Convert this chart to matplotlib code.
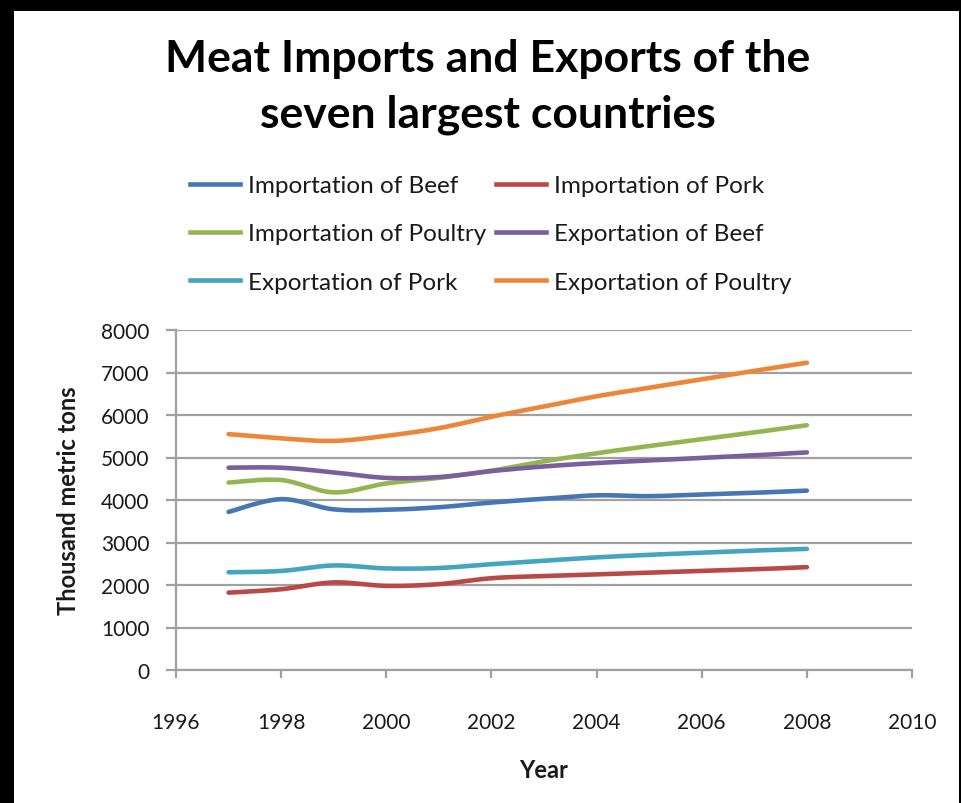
import numpy as np
import matplotlib
matplotlib.use("Agg")
import matplotlib.pyplot as plt
from matplotlib.patches import Rectangle
from matplotlib.lines import Line2D

plt.rcParams['font.family'] = ['Lato', 'DejaVu Sans']

years = [1997, 1998, 1999, 2000, 2001, 2002, 2003, 2004, 2005, 2006, 2007, 2008]
import_beef = [3720, 4020, 3780, 3770, 3830, 3940, 4030, 4110, 4090, 4130, 4170, 4220]
import_pork = [1820, 1900, 2060, 1980, 2020, 2160, 2210, 2250, 2290, 2330, 2370, 2420]
import_poultry = [4410, 4470, 4180, 4390, 4520, 4690, 4910, 5100, 5270, 5430, 5590, 5760]
export_beef = [4760, 4760, 4650, 4520, 4540, 4680, 4790, 4870, 4930, 4990, 5050, 5120]
export_pork = [2300, 2330, 2460, 2390, 2400, 2490, 2570, 2650, 2710, 2760, 2810, 2850]
export_poultry = [5550, 5450, 5390, 5510, 5690, 5960, 6200, 6440, 6640, 6840, 7040, 7230]

series_names = ["Importation of Beef", "Importation of Pork", "Importation of Poultry",
                "Exportation of Beef", "Exportation of Pork", "Exportation of Poultry"]
series_values = [import_beef, import_pork, import_poultry,
                 export_beef, export_pork, export_poultry]
colors = ["#4676B4", "#BA4845", "#93B651", "#7A5E9E", "#43A5BF", "#EE8638"]

x_ticks = [1996, 1998, 2000, 2002, 2004, 2006, 2008, 2010]
y_ticks = [0, 1000, 2000, 3000, 4000, 5000, 6000, 7000, 8000]


def smooth(xs, ys, n=30):
    """Smoothed curve through the points (cubic Bezier, Catmull-Rom tangents)."""
    pts = np.column_stack([xs, ys]).astype(float)
    ext = np.vstack([pts[0], pts, pts[-1]])
    out = []
    t = np.linspace(0, 1, n)[:, None]
    for i in range(len(pts) - 1):
        p0, p1, p2, p3 = ext[i], ext[i + 1], ext[i + 2], ext[i + 3]
        b1 = p1 + (p2 - p0) / 6.0
        b2 = p2 - (p3 - p1) / 6.0
        seg = ((1 - t) ** 3) * p1 + 3 * ((1 - t) ** 2) * t * b1 \
            + 3 * (1 - t) * t ** 2 * b2 + t ** 3 * p2
        out.append(seg if i == 0 else seg[1:])
    out = np.vstack(out)
    return out[:, 0], out[:, 1]


W, H = 961, 804
fig = plt.figure(figsize=(W / 100, H / 100), dpi=100)
fig.patch.set_facecolor("black")
fig.patches.append(Rectangle((14 / W, 0), (959 - 14) / W, (H - 12) / H,
                             transform=fig.transFigure, facecolor="white",
                             edgecolor="none", zorder=-10))

ax = fig.add_axes([176 / W, (H - 671) / H, 736 / W, 340 / H])
ax.set_facecolor("white")

grid_c = "#A0A0A0"
for name, vals, c in zip(series_names, series_values, colors):
    sx, sy = smooth(years, vals)
    ax.plot(sx, sy, color=c, lw=3.3, solid_capstyle="round",
            solid_joinstyle="round", zorder=3)

ax.set_xlim(1996, 2010)
ax.set_ylim(0, 8000)
ax.set_xticks(x_ticks)
ax.set_yticks(y_ticks)
ax.set_xticklabels([str(v) for v in x_ticks])
ax.set_yticklabels([str(v) for v in y_ticks])

ax.yaxis.grid(True, color=grid_c, lw=1.6)
ax.set_axisbelow(True)
for s in ["top", "right"]:
    ax.spines[s].set_visible(False)
for s in ["left", "bottom"]:
    ax.spines[s].set_color(grid_c)
    ax.spines[s].set_linewidth(1.6)

ax.tick_params(axis="y", direction="out", length=7, width=1.6, color=grid_c,
               labelsize=15, pad=12, labelcolor="#1a1a1a")
ax.tick_params(axis="x", direction="out", length=6, width=1.6, color=grid_c,
               labelsize=15, pad=24, labelcolor="#1a1a1a")

ax.set_xlabel("Year", fontsize=17, fontweight="bold", labelpad=19, color="#1a1a1a")
ax.set_ylabel("Thousand metric tons", fontsize=17, fontweight="bold",
              labelpad=15, color="#1a1a1a")

fig.text(488 / W, 1 - 59 / H, "Meat Imports and Exports of the",
         ha="center", va="center", fontsize=32, fontweight="bold", color="black")
fig.text(488 / W, 1 - 115 / H, "seven largest countries",
         ha="center", va="center", fontsize=32, fontweight="bold", color="black")

handles = [Line2D([], [], color=c, lw=3.3) for c in colors]
order = [0, 2, 4, 1, 3, 5]
leg = fig.legend([handles[i] for i in order], [series_names[i] for i in order],
                 ncol=2, loc="upper left", bbox_to_anchor=(190 / W, 1 - 176 / H),
                 frameon=False, fontsize=17.5, handlelength=2.05, handletextpad=0.33,
                 columnspacing=0.4, labelspacing=1.13, borderpad=0, borderaxespad=0)
for t in leg.get_texts():
    t.set_color("#1a1a1a")

fig.savefig("out.png", dpi=100, facecolor=fig.get_facecolor())
